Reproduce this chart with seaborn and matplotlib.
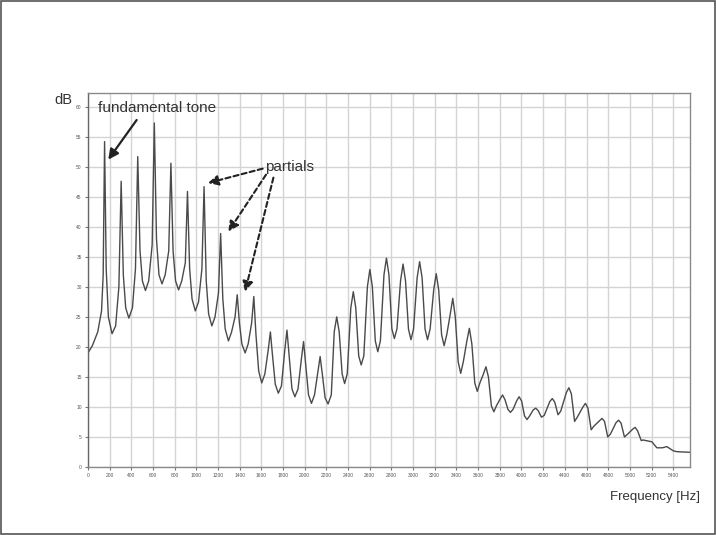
import numpy as np
import pandas as pd
import matplotlib
matplotlib.use("Agg")
import matplotlib.pyplot as plt
import seaborn as sns
from matplotlib.patches import Rectangle

# --- spectrum: (frequency in Hz, level in dB) vertices ---
freq_hz = [
    0, 40, 90, 125, 140, 153, 168, 188, 222, 255,
    285, 306, 326, 348, 377, 410,
    438, 459, 480, 502, 530, 560,
    592, 612, 632, 655, 683, 712,
    745, 765, 785, 808, 836, 865,
    898, 918, 938, 960, 990, 1020,
    1051, 1071, 1091, 1113, 1143, 1172,
    1204, 1224, 1244, 1266, 1296, 1325,
    1357, 1377, 1397, 1420, 1450, 1478,
    1510, 1530, 1550, 1575, 1603, 1632,
    1663, 1683, 1703, 1728, 1756, 1785,
    1816, 1836, 1856, 1882, 1909, 1938,
    1969, 1989, 2009, 2035, 2062, 2090,
    2122, 2142, 2162, 2188, 2215, 2245,
    2272, 2295, 2318, 2345, 2368, 2392,
    2425, 2448, 2471, 2498, 2521, 2545,
    2578, 2601, 2624, 2651, 2674, 2698,
    2731, 2754, 2777, 2804, 2827, 2851,
    2884, 2907, 2930, 2957, 2980, 3004,
    3037, 3060, 3083, 3110, 3133, 3157,
    3190, 3213, 3236, 3263, 3286, 3310,
    3343, 3366, 3389, 3416, 3439, 3463,
    3496, 3519, 3542, 3569, 3592, 3616,
    3649, 3672, 3695, 3722, 3745, 3769,
    3802, 3825, 3848, 3875, 3898, 3922,
    3955, 3978, 4001, 4028, 4051, 4075,
    4108, 4131, 4154, 4184, 4210,
    4261, 4284, 4307, 4337, 4362,
    4414, 4437, 4460, 4490, 4515,
    4567, 4590, 4613, 4643, 4668,
    4720, 4743, 4766, 4796, 4821,
    4873, 4896, 4919, 4950, 4975,
    5026, 5049, 5072, 5105,
    5122, 5203, 5249, 5300, 5341, 5400, 5434, 5555,
]
level_db = [
    19.0, 20.2, 22.5, 26.0, 32.0, 54.2, 33.0, 25.0, 22.2, 23.5,
    30.0, 47.6, 32.0, 26.5, 24.8, 26.5,
    33.0, 51.7, 36.0, 31.0, 29.4, 31.0,
    37.0, 57.3, 38.0, 32.0, 30.5, 32.0,
    36.0, 50.6, 36.0, 31.0, 29.5, 31.0,
    34.0, 45.9, 33.0, 28.0, 26.0, 27.5,
    33.0, 46.7, 31.0, 25.5, 23.5, 25.0,
    29.0, 38.9, 28.0, 23.0, 21.0, 22.5,
    25.0, 28.7, 24.0, 20.5, 19.0, 20.5,
    24.0, 28.4, 22.0, 16.0, 14.0, 15.5,
    19.5, 22.5, 18.5, 13.8, 12.3, 13.5,
    19.5, 22.8, 18.5, 13.0, 11.7, 13.0,
    18.0, 20.9, 17.0, 12.0, 10.6, 12.0,
    16.0, 18.4, 15.5, 11.5, 10.5, 12.0,
    22.5, 25.0, 22.5, 15.5, 13.9, 15.5,
    26.5, 29.2, 26.5, 18.5, 17.0, 18.5,
    30.0, 32.9, 30.0, 21.0, 19.2, 21.0,
    32.0, 34.8, 32.0, 23.0, 21.4, 23.0,
    31.0, 33.8, 31.0, 23.0, 21.2, 23.0,
    31.5, 34.2, 31.5, 23.0, 21.2, 23.0,
    29.5, 32.2, 29.5, 22.0, 20.2, 22.0,
    25.5, 28.1, 25.0, 17.5, 15.6, 17.5,
    21.0, 23.1, 20.5, 14.0, 12.6, 14.0,
    15.5, 16.7, 15.0, 10.2, 9.2, 10.2,
    11.3, 12.0, 11.2, 9.6, 9.1, 9.6,
    11.0, 11.7, 11.0, 8.5, 7.9, 8.5,
    9.5, 9.8, 9.4, 8.3, 8.6,
    10.9, 11.4, 10.8, 8.7, 9.3,
    12.4, 13.2, 12.2, 7.6, 8.3,
    10.0, 10.6, 9.8, 6.2, 6.8,
    7.7, 8.1, 7.6, 5.0, 5.5,
    7.4, 7.8, 7.3, 5.0, 5.4,
    6.3, 6.6, 6.0, 4.4,
    4.5, 4.2, 3.2, 3.2, 3.4, 2.7, 2.55, 2.45,
]

x_ticks = list(range(0, 5600, 200))
y_ticks = list(range(0, 65, 5))

df = pd.DataFrame({"Frequency": freq_hz, "dB": level_db})

sns.set_style("whitegrid")
plt.rcParams['font.family'] = ['Liberation Sans', 'DejaVu Sans']

fig = plt.figure(figsize=(7.16, 5.35), dpi=100)
ax = fig.add_axes([0.1229, 0.1271, 0.8408, 0.6991])

sns.lineplot(data=df, x="Frequency", y="dB", ax=ax, color="#4a4a4a",
             linewidth=1.0, sort=False, estimator=None)

ax.set_xlim(0, 5555)
ax.set_ylim(0, 62.3)
ax.set_xticks(x_ticks)
ax.set_yticks(y_ticks)
ax.set_xticklabels([str(v) for v in x_ticks], fontsize=3.5, color="#555555")
ax.set_yticklabels([str(v) for v in y_ticks], fontsize=3.5, color="#555555")
ax.tick_params(axis="both", length=2.5, width=0.8, color="#777777", pad=2,
               left=True, bottom=True)
ax.grid(True, color="#d4d4d4", linewidth=1.0)
ax.set_xlabel("")
ax.set_ylabel("")
for side in ["top", "right", "bottom", "left"]:
    ax.spines[side].set_visible(True)
    ax.spines[side].set_color("#8a8a8a")
    ax.spines[side].set_linewidth(1.0)
ax.spines["left"].set_color("#666666")

# axis labels as in the figure
fig.text(63 / 716, 1 - 100 / 535, "dB", fontsize=10.5, ha="center", va="center",
         color="#333333")
fig.text(700 / 716, 1 - 497 / 535, "Frequency [Hz]", fontsize=9.5, ha="right",
         va="center", color="#333333")

# annotations
ax.text(92, 59.75, "fundamental tone", fontsize=11, ha="left", va="center",
        color="#333333")
ax.annotate("", xy=(187, 51.2), xytext=(449, 57.8),
            arrowprops=dict(arrowstyle="-|>,head_length=0.6,head_width=0.3",
                            color="#222222", lw=1.6, shrinkA=0, shrinkB=0))

ax.text(1634, 50.0, "partials", fontsize=11, ha="left", va="center",
        color="#333333")
partial_arrows = [((1612, 49.7), (1107, 47.3)),
                  ((1643, 48.7), (1295, 39.2)),
                  ((1711, 48.2), (1449, 29.2))]
for start, end in partial_arrows:
    ax.annotate("", xy=end, xytext=start,
                arrowprops=dict(arrowstyle="-|>,head_length=0.6,head_width=0.3",
                                color="#222222", lw=1.5, linestyle=(0, (2.5, 1.5)),
                                shrinkA=0, shrinkB=0))

# frame around the whole picture
fig.patches.append(Rectangle((0.001, 0.001), 0.997, 0.997, transform=fig.transFigure,
                             fill=False, edgecolor="#555555", linewidth=1.2))

fig.savefig("out.png", dpi=100)
